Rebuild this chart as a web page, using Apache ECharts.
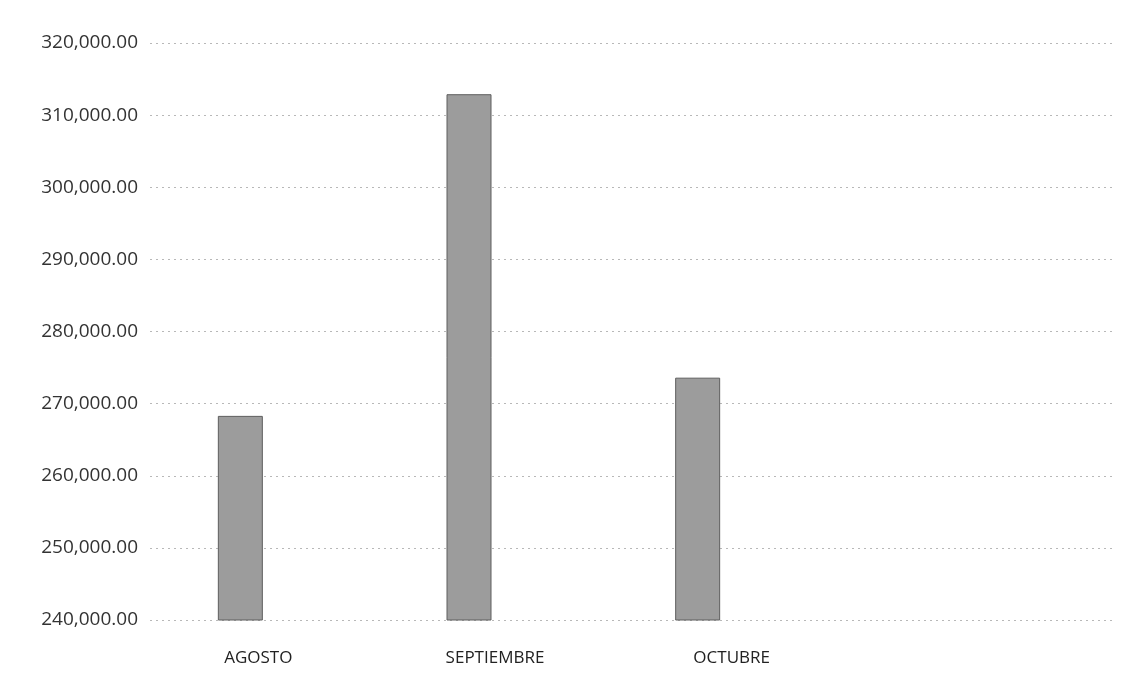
<!DOCTYPE html>
<html><head><meta charset="utf-8">
<script src="https://cdn.jsdelivr.net/npm/echarts@6/dist/echarts.min.js"></script>
<style>html,body{margin:0;padding:0;background:#fff}#c{width:1123px;height:681px}</style>
</head><body><div id="c"></div>
<script>
const categories = ['AGOSTO', 'SEPTIEMBRE', 'OCTUBRE'];
const values = [268300, 312900, 273600];
const yMin = 240000, yMax = 320000, yStep = 10000;

const fmt = v => v.toLocaleString('en-US', {minimumFractionDigits: 2, maximumFractionDigits: 2});
const chart = echarts.init(document.getElementById('c'));
chart.setOption({
  animation: false,
  grid: [
    {left: 150, right: 8, top: 43, bottom: 61},
    {left: 140, width: 710, top: 43, bottom: 61},
    {left: 126, width: 686, top: 43, bottom: 61}
  ],
  xAxis: [
    {gridIndex: 0, type: 'category', data: categories, show: false},
    {gridIndex: 1, type: 'category', data: categories,
     axisLine: {show: false}, axisTick: {show: false},
     axisLabel: {margin: 30, fontFamily: 'Open Sans', fontSize: 17, color: '#222'}},
    {gridIndex: 2, type: 'category', data: categories, show: false}
  ],
  yAxis: [
    {gridIndex: 0, type: 'value', min: yMin, max: yMax, interval: yStep,
     axisLine: {show: false}, axisTick: {show: false},
     axisLabel: {formatter: fmt, margin: 12, fontFamily: 'Open Sans', fontSize: 19, color: '#333'},
     splitLine: {lineStyle: {color: '#b8b8b8', type: [2, 4], width: 1}}},
    {gridIndex: 1, type: 'value', min: yMin, max: yMax, interval: yStep, show: false},
    {gridIndex: 2, type: 'value', min: yMin, max: yMax, interval: yStep, show: false}
  ],
  series: [
    {type: 'bar', xAxisIndex: 2, yAxisIndex: 2, data: values, barWidth: 45,
     itemStyle: {color: '#9c9c9c', borderColor: '#5e5e5e', borderWidth: 1}}
  ]
});
</script></body></html>
